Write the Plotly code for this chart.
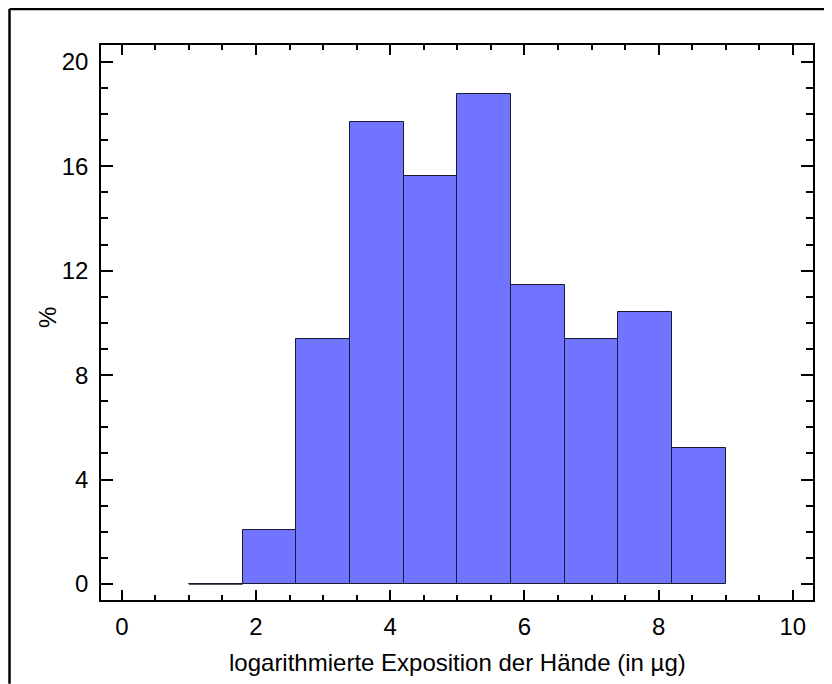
import plotly.graph_objects as go

# Data: histogram bins (left edges, width) and percentages
bin_left = [1.0, 1.8, 2.6, 3.4, 4.2, 5.0, 5.8, 6.6, 7.4, 8.2]
bin_width = 0.8
percent = [0.0, 2.08, 9.38, 17.71, 15.63, 18.75, 11.46, 9.38, 10.42, 5.21]

x_title = "logarithmierte Exposition der Hände (in µg)"
y_title = "%"
x_ticks = [0, 2, 4, 6, 8, 10]
y_ticks = [0, 4, 8, 12, 16, 20]

bar_color = "#7074FF"
edge_color = "#1a1a2e"
font_family = "Liberation Sans, Arial, Helvetica, sans-serif"
fs = 24

centers = [l + bin_width / 2 for l in bin_left]

fig = go.Figure()
fig.add_trace(go.Bar(
    x=centers, y=percent, width=[bin_width] * len(centers),
    marker=dict(color=bar_color, line=dict(color=edge_color, width=1)),
    showlegend=False, hoverinfo="x+y",
))
# zero-height bins drawn as flat lines
for l, p in zip(bin_left, percent):
    if p == 0:
        fig.add_trace(go.Scatter(
            x=[l, l + bin_width], y=[p, p], mode="lines",
            line=dict(color=edge_color, width=1.2), showlegend=False,
            hoverinfo="skip",
        ))

axis_common = dict(
    showline=True, linecolor="black", linewidth=1.5, mirror="allticks",
    ticks="inside", tickcolor="black", tickwidth=1.5,
    showgrid=False, zeroline=False,
    tickfont=dict(family=font_family, size=fs, color="black"),
)

fig.update_xaxes(
    range=[-0.31, 10.3], tickvals=x_ticks, ticklen=10, ticklabelstandoff=4,
    minor=dict(dtick=0.5, tick0=0, ticks="inside", ticklen=5, tickwidth=1.5,
               tickcolor="black", showgrid=False),
    **axis_common,
)
fig.update_yaxes(
    range=[-0.61, 20.64], tickvals=y_ticks, ticklen=12, ticklabelstandoff=6,
    minor=dict(dtick=1, tick0=0, ticks="inside", ticklen=7, tickwidth=1.5,
               tickcolor="black", showgrid=False),
    **axis_common,
)

frame = dict(color="black", width=2.5)
fig.update_layout(
    width=824, height=676,
    margin=dict(l=93, r=19, t=37, b=84),
    paper_bgcolor="white", plot_bgcolor="white",
    bargap=0,
    font=dict(family=font_family, size=fs, color="black"),
    annotations=[
        dict(text=x_title, xref="paper", yref="paper", x=0.5, y=-0.1135,
             xanchor="center", yanchor="middle", showarrow=False,
             font=dict(family=font_family, size=fs, color="black")),
        dict(text=y_title, xref="paper", yref="paper", x=-0.0758, y=0.508,
             xanchor="center", yanchor="middle", showarrow=False, textangle=-90,
             font=dict(family=font_family, size=fs, color="black")),
    ],
    shapes=[
        dict(type="line", xref="paper", yref="paper",
             x0=-0.1285, x1=-0.1285, y0=-0.151, y1=1.0649, line=frame),
        dict(type="line", xref="paper", yref="paper",
             x0=-0.1285, x1=1.025, y0=1.0649, y1=1.0649, line=frame),
    ],
)

fig.write_html(
    "out.html",
    post_script="document.documentElement.style.overflow='hidden';"
                "document.body.style.overflow='hidden';",
)
